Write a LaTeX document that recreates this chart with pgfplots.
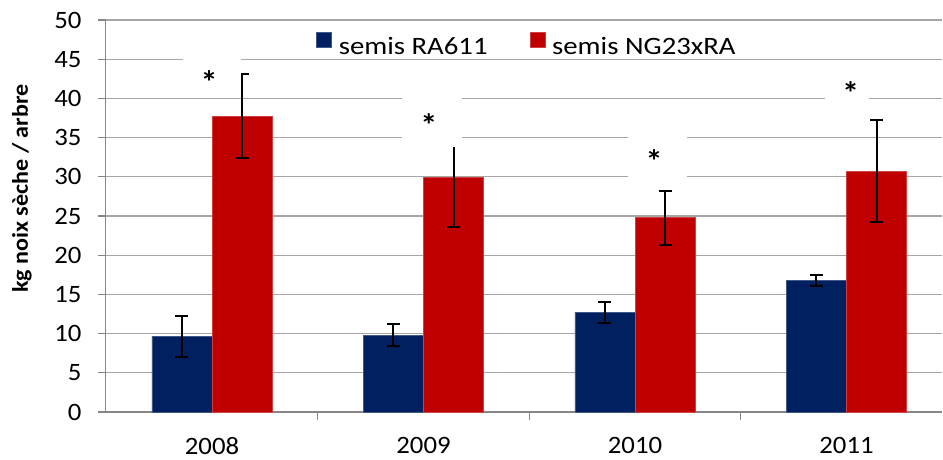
\documentclass[border=0pt]{standalone}
\usepackage{fontspec}
\setmainfont{Carlito}[FakeStretch=1.07]
\newfontfamily\legfont{Carlito}[FakeStretch=1.15]
\usepackage{pgfplots}
\pgfplotsset{compat=1.18}
\definecolor{navy}{HTML}{002060}
\definecolor{dred}{HTML}{C00000}
\definecolor{gridgray}{HTML}{A6A6A6}
\definecolor{axgray}{HTML}{868686}
\begin{document}
\begin{tikzpicture}
\useasboundingbox (-105.75pt,-47pt) rectangle (837.25pt,412pt);
\begin{axis}[
  scale only axis, width=836.25pt, height=392pt,
  xmin=-0.5024, xmax=3.4515, ymin=0, ymax=50,
  ybar=0pt, bar width=0.284,
  axis x line*=bottom, axis y line*=left,
  axis line style={axgray, line width=1.2pt, -},
  xtick={0.5,1.5,2.5}, xticklabels={},
  extra x ticks={0,1,2,3},
  extra x tick labels={2008,2009,2010,2011},
  extra x tick style={major tick length=0pt, grid=none},
  ytick={0,5,...,50},
  tick align=outside,
  major tick length=8pt,
  tick style={axgray, line width=1.2pt},
  ymajorgrids, grid style={gridgray, line width=1.2pt},
  /pgf/number format/assume math mode=true,
  tick label style={font=\fontsize{25}{30}\selectfont},
  yticklabel style={anchor=east, inner sep=0pt, xshift=-16pt},
  xticklabel style={anchor=north, inner sep=0pt, yshift=-25pt},
  ylabel={kg noix sèche / arbre},
  ylabel style={font=\fontsize{22.5}{27}\selectfont\bfseries, at={(axis description cs:-0.10015,0.570)}, anchor=center},
  legend columns=2,
  legend style={at={(axis description cs:0.5,1)}, anchor=north, xshift=3pt, yshift=-10pt, draw=none, fill=none,
    font=\legfont\fontsize{25}{30}\selectfont,
    /tikz/every odd column/.append style={column sep=5pt},
    /tikz/every even column/.append style={column sep=40pt}},
  legend image code/.code={\fill[#1] (0pt,-1pt) rectangle (15pt,14pt);},
  error bars/y dir=both, error bars/y explicit,
  error bars/error bar style={black, line width=2pt},
  error bars/error mark options={rotate=90, mark size=6.5pt, black, line width=2pt},
]
\addplot[fill=navy, draw=navy!75!white, line width=0.6pt] coordinates {
  (0,9.6) +- (0,2.6)
  (1,9.8) +- (0,1.4)
  (2,12.7) +- (0,1.3)
  (3,16.8) +- (0,0.7)
};
\addplot[fill=dred, draw=dred!75!white, line width=0.6pt] coordinates {
  (0,37.7) +- (0,5.35)
  (1,29.9) +- (0,6.3)
  (2,24.8) +- (0,3.45)
  (3,30.7) +- (0,6.5)
};
\legend{semis RA611, semis NG23xRA}
\fill[white] (axis cs:-0.137,40.43) rectangle (axis cs:0.135,45.92);
\fill[white] (axis cs:0.898,33.80) rectangle (axis cs:1.182,40.31);
\fill[white] (axis cs:1.967,29.59) rectangle (axis cs:2.246,35.46);
\fill[white] (axis cs:2.898,38.90) rectangle (axis cs:3.106,44.39);
\node[font=\fontsize{32}{36}\selectfont\bfseries, inner sep=0pt, yshift=-6pt] at (axis cs:-0.014,42.86) {*};
\node[font=\fontsize{32}{36}\selectfont\bfseries, inner sep=0pt, yshift=-6pt] at (axis cs:1.025,37.33) {*};
\node[font=\fontsize{32}{36}\selectfont\bfseries, inner sep=0pt, yshift=-6pt] at (axis cs:2.091,32.78) {*};
\node[font=\fontsize{32}{36}\selectfont\bfseries, inner sep=0pt, yshift=-6pt] at (axis cs:3.020,41.49) {*};
\end{axis}
\end{tikzpicture}
\end{document}
